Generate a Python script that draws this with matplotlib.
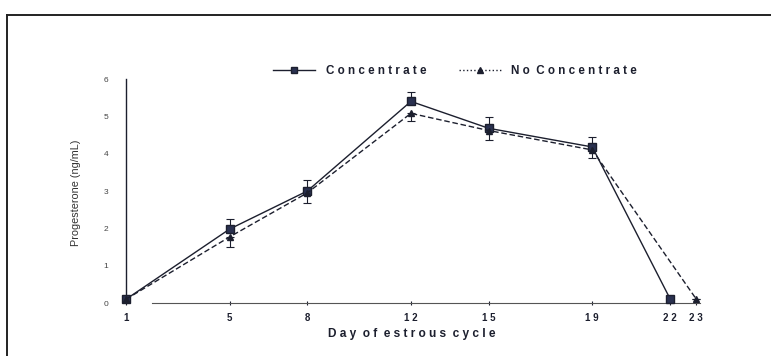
import numpy as np
import matplotlib
matplotlib.use("Agg")
import matplotlib.pyplot as plt
from matplotlib.lines import Line2D

plt.rcParams['font.family'] = ['Liberation Sans', 'DejaVu Sans']

# data
conc_days = [1, 5, 8, 12, 15, 19, 22]
conc_vals = [0.1, 1.98, 3.0, 5.4, 4.68, 4.18, 0.12]
conc_err = [0.0, 0.27, 0.3, 0.25, 0.3, 0.27, 0.0]

noconc_days = [1, 5, 8, 12, 15, 19, 23]
noconc_vals = [0.1, 1.77, 2.95, 5.08, 4.62, 4.1, 0.12]
noconc_err = [0.0, 0.27, 0.27, 0.2, 0.25, 0.22, 0.0]

x_ticks = [1, 5, 8, 12, 15, 19, 22, 23]
y_ticks = [0, 1, 2, 3, 4, 5, 6]

ink = '#1c1f2e'

def spaced(s):
    return ' '.join(s).replace('   ', '  ')

fig = plt.figure(figsize=(7.71, 3.56), dpi=100)
ax = fig.add_axes([126/771, 53/356, 574/771, 224/356])

# errorbars: concentrate upward, no concentrate downward
ax.errorbar(conc_days, conc_vals, yerr=[np.zeros(len(conc_err)), conc_err],
            fmt='none', ecolor=ink, elinewidth=0.8, capsize=3, capthick=0.8,
            clip_on=False, zorder=2)
ax.errorbar(noconc_days, noconc_vals, yerr=[noconc_err, np.zeros(len(noconc_err))],
            fmt='none', ecolor=ink, elinewidth=0.8, capsize=3, capthick=0.8,
            clip_on=False, zorder=2)

ax.plot(conc_days, conc_vals, color=ink, lw=1.0, ls='-', marker='s',
        markersize=5.5, markerfacecolor='#2a3150', markeredgecolor=ink,
        clip_on=False, zorder=3)
ax.plot(noconc_days, noconc_vals, color=ink, lw=1.0, ls=(0, (4, 2)), marker='^',
        markersize=5, markerfacecolor=ink, markeredgecolor=ink,
        clip_on=False, zorder=3)

ax.set_xlim(1, 23.16)
ax.set_ylim(0, 6)
ax.set_xticks(x_ticks)
ax.set_xticklabels([spaced(str(d)) for d in x_ticks], fontsize=7, fontweight='bold')
ax.set_yticks(y_ticks)
ax.set_yticklabels([str(v) for v in y_ticks], fontsize=6, color='#444444')

ax.spines['top'].set_visible(False)
ax.spines['right'].set_visible(False)
ax.spines['left'].set_color(ink)
ax.spines['left'].set_linewidth(1.0)
ax.spines['bottom'].set_color('#555555')
ax.spines['bottom'].set_linewidth(0.8)
ax.spines['bottom'].set_bounds(2, 23.16)
ax.tick_params(axis='x', length=3, width=0.8, direction='inout', pad=6, colors=ink)
ax.tick_params(axis='y', length=0, pad=13)

fig.text(412/771, 1 - 334/356, spaced('Day of estrous cycle'),
         ha='center', va='center', fontsize=8.6, fontweight='bold', color=ink)
fig.text(76/771, 1 - 193/356, 'Progesterone (ng/mL)', rotation=90,
         ha='center', va='center', fontsize=7.8, color='#333333')

handles = [
    Line2D([], [], color=ink, lw=1.0, marker='s', markersize=5, markerfacecolor='#2a3150'),
    Line2D([], [], color=ink, lw=1.0, ls=':', marker='^', markersize=5),
]
labels = [spaced('Concentrate'), spaced('No Concentrate')]
fig.legend(handles, labels, loc='center', bbox_to_anchor=(455/771, 1 - 71/356),
           ncol=2, frameon=False, handlelength=3.6, handletextpad=0.9,
           columnspacing=2.8, prop={'size': 8.4, 'weight': 'bold'},
           labelcolor=ink)

# scanned page frame: top and left edges
fig.add_artist(Line2D([7/771, 1], [1 - 15/356, 1 - 15/356], color='#222222', lw=1.4))
fig.add_artist(Line2D([7/771, 7/771], [0, 1 - 15/356], color='#222222', lw=1.4))

fig.savefig('out.png', dpi=100)
